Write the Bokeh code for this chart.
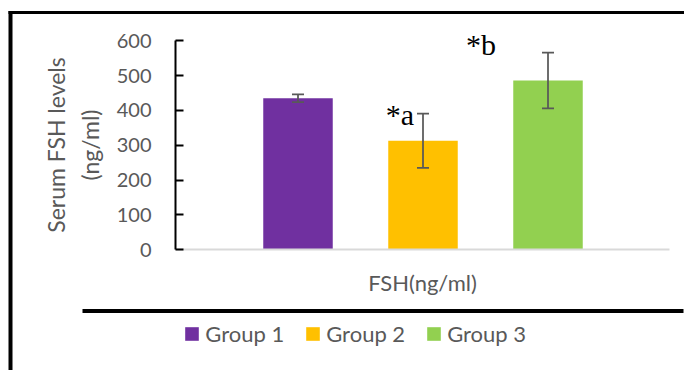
from bokeh.plotting import figure
from bokeh.models import (Range1d, Whisker, ColumnDataSource, Legend, LegendItem,
                          BoxAnnotation, LabelSet, FixedTicker, TeeHead)
from bokeh.embed import file_html
from bokeh.resources import INLINE
from bokeh.core.properties import value

# ---- data ----
groups = ["Group 1", "Group 2", "Group 3"]
fsh_mean = [435, 313, 486]
fsh_err = [11, 78, 80]
colors = ["#7030A0", "#FFC000", "#92D050"]
y_ticks = [0, 100, 200, 300, 400, 500, 600]
sig_text = ["*a", "*b"]
sig_x = [0.816, 1.464]
sig_y = [359, 560]

xs = list(range(len(groups)))
src = ColumnDataSource(dict(
    x=xs, top=fsh_mean,
    lower=[m - e for m, e in zip(fsh_mean, fsh_err)],
    upper=[m + e for m, e in zip(fsh_mean, fsh_err)],
    color=colors, group=groups))

TXT = "#595959"
FONT = "Lato"
W, H = 684, 370

p = figure(width=W, height=H, output_backend="svg", toolbar_location=None,
           x_range=Range1d(-2.38, 3.092), y_range=Range1d(-346.5, 715.7),
           min_border=0)
p.outline_line_color = None
p.grid.visible = False
p.background_fill_color = "white"
p.border_fill_color = "white"

bars = p.vbar(x="x", top="top", width=0.556, bottom=0, source=src,
              fill_color="color", line_color=None)

p.add_layout(Whisker(source=src, base="x", lower="lower", upper="upper",
                     line_color=TXT, line_width=1.75, level="overlay",
                     upper_head=TeeHead(size=12, line_color=TXT, line_width=1.75),
                     lower_head=TeeHead(size=12, line_color=TXT, line_width=1.75)))

# y axis
ya = p.yaxis[0]
ya.fixed_location = -0.98
ya.bounds = (0, 600)
ya.ticker = FixedTicker(ticks=y_ticks)
ya.minor_tick_line_color = None
ya.axis_line_color = "black"
ya.axis_line_width = 2
ya.major_tick_line_color = "black"
ya.major_tick_line_width = 2
ya.major_tick_in = 8
ya.major_tick_out = 0
ya.major_label_standoff = 24
ya.major_label_text_font = FONT
ya.major_label_text_font_size = "20px"
ya.major_label_text_color = TXT
ya.axis_label = "Serum FSH levels\n(ng/ml)"
ya.axis_label_text_font = FONT
ya.axis_label_text_font_size = "23px"
ya.axis_label_text_font_style = "normal"
ya.axis_label_text_color = TXT
ya.axis_label_standoff = 10

# x axis
xa = p.xaxis[0]
xa.fixed_location = 0
xa.bounds = (-0.98, 2.972)
xa.ticker = FixedTicker(ticks=[])
xa.minor_tick_line_color = None
xa.major_tick_line_color = None
xa.axis_line_color = "#D9D9D9"
xa.axis_line_width = 2
xa.axis_label = "FSH(ng/ml)"
xa.axis_label_text_font = FONT
xa.axis_label_text_font_size = "22px"
xa.axis_label_text_font_style = "normal"
xa.axis_label_text_color = TXT
xa.axis_label_standoff = 19

# significance labels
p.add_layout(LabelSet(source=ColumnDataSource(dict(x=sig_x, y=sig_y, t=sig_text)),
                      x="x", y="y", text="t", text_align="center",
                      text_baseline="alphabetic",
                      text_font=value("Liberation Serif"),
                      text_font_size="30px", text_color="black"))

# frame lines of the original figure (canvas coordinates)
def bar_box(l, r, t, b):
    p.add_layout(BoxAnnotation(left=l, right=r, top=t, bottom=b,
                               left_units="canvas", right_units="canvas",
                               top_units="canvas", bottom_units="canvas",
                               fill_color="black", fill_alpha=1,
                               line_color=None, level="overlay"))

bar_box(8, 684, 10.5, 13.5)
bar_box(8, 12, 10.5, 370)
bar_box(82, 683, 308.5, 312.5)

legend = Legend(items=[LegendItem(label=g, renderers=[bars], index=i)
                       for i, g in enumerate(groups)],
                orientation="horizontal", location=(183.3, 23),
                glyph_width=17, glyph_height=17, label_standoff=5, spacing=20,
                padding=0, margin=0, border_line_color=None,
                background_fill_alpha=0,
                label_text_font=FONT, label_text_font_size="22px",
                label_text_color=TXT)
p.add_layout(legend, "center")

open("out.html", "w").write(file_html(p, INLINE))
